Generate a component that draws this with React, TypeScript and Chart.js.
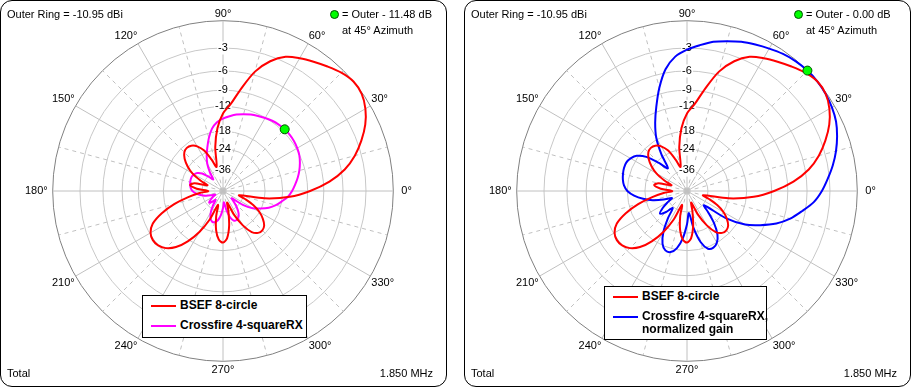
import React, { useEffect, useRef } from 'react';
import { Chart, registerables, RadialLinearScale } from 'chart.js';

Chart.register(...registerables);

// ARRL log scale: each 2 dB is a factor 0.89 in radius
class ArrlScale extends RadialLinearScale {
  static id = 'arrl';
  getDistanceFromCenterForValue(value: any) {
    if (value === null || value === undefined || isNaN(value)) return NaN;
    const v = Math.min(value, 0);
    return this.drawingArea * Math.pow(0.89, -v / 2);
  }
  getValueForDistanceFromCenter(d: number) {
    return (2 * Math.log(d / this.drawingArea)) / -Math.log(0.89);
  }
}
Chart.register(ArrlScale as any);

// Azimuth (degrees) of every sample
const AZIMUTH = [
  0, 5, 10, 15, 20, 25, 30, 35, 40, 45, 50, 55, 60, 65, 70, 75, 80, 85,
  90, 95, 100, 105, 110, 115, 120, 125, 130, 135, 140, 145, 150, 155, 160, 165, 170, 175,
  180, 185, 190, 195, 200, 205, 210, 215, 220, 225, 230, 235, 240, 245, 250, 255, 260, 265,
  270, 275, 280, 285, 290, 295, 300, 305, 310, 315, 320, 325, 330, 335, 340, 345, 350, 355,
];

// BSEF 8-circle, dB relative to outer ring
const BSEF = [
  -11.5, -8, -5.5, -3.8, -2.5, -1.4, -0.6, -0.1, 0, -0.3, -0.8, -1.3, -1.8, -2.4, -3.6, -5.5, -8.5, -11.5,
  -13.5, -17, -23, -33, -28, -23, -20.5, -19.3, -19, -19.5, -21, -23.5, -27, -33, -40, -30, -28, -32,
  -42, -34, -27, -21, -16.5, -13.5, -12.2, -11.8, -12, -12.8, -14.5, -17.5, -22, -29, -42, -32, -25, -21.5,
  -20.5, -22, -27, -36, -45, -32, -25, -21, -19.5, -19.2, -19.8, -21.5, -24, -28, -34, -40, -24, -16,
];

// Crossfire 4-squareRX, normalized gain (dB relative to its own maximum)
const CROSSFIRE_NORM = [
  -4, -3.2, -2.4, -1.7, -1.1, -0.6, -0.3, -0.1, 0, 0, -0.1, -0.3, -0.6, -0.9, -1.2, -1.6, -2, -2.6,
  -3.2, -4, -5.5, -8, -11, -14, -17.5, -23, -30, -25, -20, -17.5, -16.5, -16, -16, -16.2, -16.5, -17,
  -18, -20, -23, -27, -33, -40, -35, -30, -27, -30, -35, -28, -22, -18.5, -17, -17, -18.5, -22,
  -28, -35, -26, -20, -17.5, -17.2, -18, -20, -24, -30, -35, -22, -16, -12.8, -10, -8, -6.5, -5,
];

// Crossfire maximum relative to the outer ring (dB)
const CROSSFIRE_OFFSET = -11.48;
const MARK_AZIMUTH = 45;

const RING_TICKS = [-36, -24, -18, -12, -9, -6, -3, 0];
const FONT = "'Liberation Sans', Arial, sans-serif";

const STEP = 5;
const LABEL_COUNT = 360 / STEP;
// radar index i is clockwise from top: azimuth = 90 - i*STEP
const radarAz = Array.from({ length: LABEL_COUNT }, (_, i) => ((90 - i * STEP) % 360 + 360) % 360);
const pick = (arr: number[], shift = 0) => radarAz.map((az) => arr[AZIMUTH.indexOf(az)] + shift);

type Series = { label: string; color: string; values: number[] };

function PolarChart({ series, markValue }: { series: Series[]; markValue: number }) {
  const ref = useRef<HTMLCanvasElement>(null);
  useEffect(() => {
    const mark = radarAz.map((az) => (az === MARK_AZIMUTH ? markValue : null));
    const chart = new Chart(ref.current!, {
      type: 'radar',
      data: {
        labels: radarAz,
        datasets: [
          {
            label: 'mark',
            data: mark as any,
            showLine: false,
            pointRadius: 4.5,
            pointBackgroundColor: '#00ff00',
            pointBorderColor: '#005000',
            pointBorderWidth: 1,
            borderWidth: 0,
          },
          ...series.map((s) => ({
            label: s.label,
            data: s.values,
            borderColor: s.color,
            borderWidth: 2,
            pointRadius: 0,
            fill: false,
            tension: 0.3,
          })),
        ],
      },
      options: {
        animation: false,
        responsive: false,
        maintainAspectRatio: false,
        layout: { padding: { top: 7, bottom: 7, left: 0, right: 0 } },
        plugins: { legend: { display: false }, tooltip: { enabled: false } },
        scales: {
          r: {
            type: 'arrl' as any,
            min: -60,
            max: 0,
            startAngle: 0,
            afterBuildTicks: (scale: any) => {
              scale.ticks = RING_TICKS.map((v) => ({ value: v }));
            },
            ticks: {
              callback: (v: any) => (v === 0 ? '' : String(v)),
              font: { family: FONT, size: 11 },
              color: '#000',
              backdropColor: '#fff',
              backdropPadding: 1,
              showLabelBackdrop: (ctx: any) => ctx.tick && ctx.tick.value !== 0,
              z: 0,
            },
            grid: {
              circular: true,
              color: (ctx: any) => (ctx.tick && ctx.tick.value === 0 ? '#808080' : '#c8c8c8'),
              lineWidth: 1,
            },
            angleLines: {
              color: (ctx: any) => {
                const az = radarAz[ctx.index];
                return az % 15 === 0 ? '#c0c0c0' : 'rgba(0,0,0,0)';
              },
              lineWidth: 1,
              borderDash: (ctx: any) => (radarAz[ctx.index] % 30 === 0 ? [] : [4, 4]),
            } as any,
            pointLabels: {
              callback: (label: any) => (Number(label) % 30 === 0 ? `${label}°` : ''),
              font: { family: FONT, size: 11 },
              color: '#000',
              padding: (ctx: any) => {
                const az = radarAz[ctx.index];
                if (az === 90) return -6.5;
                if (az === 270) return -4;
                if (az === 0) return 1.5;
                if (az === 180) return -1.5;
                return -5.5;
              },
            } as any,
          } as any,
        },
      },
    });
    return () => chart.destroy();
  }, []);
  return <canvas ref={ref} width={447} height={386} style={{ position: 'absolute', left: 0, top: 0 }} />;
}

const txt: React.CSSProperties = {
  position: 'absolute',
  fontFamily: FONT,
  fontSize: 11,
  lineHeight: '14px',
  color: '#000',
  whiteSpace: 'nowrap',
};

function Panel({
  left,
  series,
  markValue,
  markText,
  legend,
}: {
  left: number;
  series: Series[];
  markValue: number;
  markText: string;
  legend: { label: string[]; color: string }[];
}) {
  const tall = legend.reduce((a, l) => a + l.label.length, 0) > 2;
  return (
    <div style={{ position: 'absolute', left, top: 0, width: 447, height: 387 }}>
      <div
        style={{
          position: 'absolute',
          left: 0,
          top: 0,
          width: 447,
          height: 387,
          boxSizing: 'border-box',
          border: '1px solid #000',
          borderRadius: 12,
        }}
      />
      <PolarChart series={series} markValue={markValue} />
      <div style={{ ...txt, left: 7, top: 7 }}>Outer Ring = -10.95 dBi</div>
      <div
        style={{
          position: 'absolute',
          left: 330,
          top: 10,
          width: 9,
          height: 9,
          borderRadius: 5,
          background: '#00ff00',
          border: '1px solid #005000',
          boxSizing: 'border-box',
        }}
      />
      <div style={{ ...txt, left: 342, top: 7 }}>{markText}</div>
      <div style={{ ...txt, left: 342, top: 23 }}>at 45° Azimuth</div>
      <div style={{ ...txt, left: 7, top: 366 }}>Total</div>
      <div style={{ ...txt, right: 447 - 433, top: 366 }}>1.850 MHz</div>
      <div
        style={{
          position: 'absolute',
          left: tall ? 140 : 142,
          top: tall ? 286 : 295,
          width: tall ? 163 : 165,
          height: tall ? 54 : 43,
          boxSizing: 'border-box',
          border: '1px solid #000',
          background: '#fff',
        }}
      >
        {legend.map((l, i) => (
          <div key={i} style={{ position: 'relative', height: l.label.length * 13 + 7 }}>
            <div
              style={{
                position: 'absolute',
                left: 8,
                top: 9,
                width: 25,
                height: 2,
                background: l.color,
              }}
            />
            <div
              style={{
                ...txt,
                fontSize: 12,
                left: 37,
                top: 3,
                fontWeight: 'bold',
                lineHeight: '13px',
              }}
            >
              {l.label.map((s, j) => (
                <div key={j}>{s}</div>
              ))}
            </div>
          </div>
        ))}
      </div>
    </div>
  );
}

export default function App() {
  const bsef = pick(BSEF);
  const crossRaw = pick(CROSSFIRE_NORM, CROSSFIRE_OFFSET);
  const crossNorm = pick(CROSSFIRE_NORM);
  return (
    <div style={{ position: 'absolute', left: 0, top: 0, width: 911, height: 387, background: '#fff' }}>
      <Panel
        left={0}
        series={[
          { label: 'BSEF 8-circle', color: '#ff0000', values: bsef },
          { label: 'Crossfire 4-squareRX', color: '#ff00ff', values: crossRaw },
        ]}
        markValue={CROSSFIRE_OFFSET}
        markText="= Outer - 11.48 dB"
        legend={[
          { label: ['BSEF 8-circle'], color: '#ff0000' },
          { label: ['Crossfire 4-squareRX'], color: '#ff00ff' },
        ]}
      />
      <Panel
        left={464}
        series={[
          { label: 'BSEF 8-circle', color: '#ff0000', values: bsef },
          { label: 'Crossfire 4-squareRX, normalized gain', color: '#0000ff', values: crossNorm },
        ]}
        markValue={0}
        markText="= Outer - 0.00 dB"
        legend={[
          { label: ['BSEF 8-circle'], color: '#ff0000' },
          { label: ['Crossfire 4-squareRX,', 'normalized gain'], color: '#0000ff' },
        ]}
      />
    </div>
  );
}
